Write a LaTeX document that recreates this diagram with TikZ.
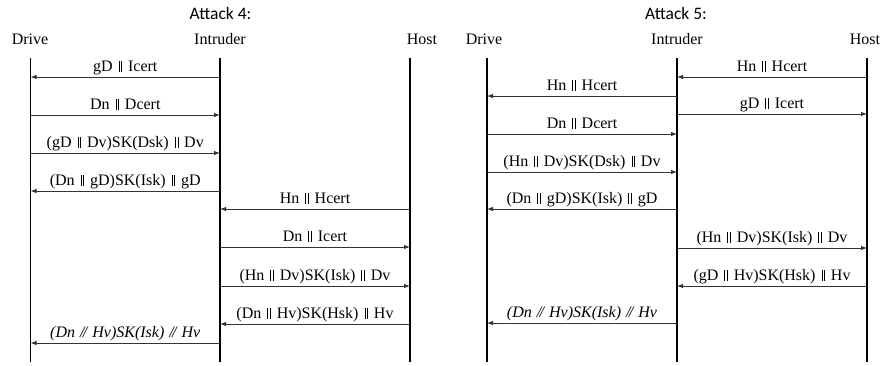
\documentclass[tikz,border=0pt]{standalone}
\usepackage{fontspec}
\setmainfont{Liberation Serif}
\newfontfamily\titlefont{Carlito}
\usetikzlibrary{arrows.meta}
\newcommand\dbar{\kern2pt\rule{0.7pt}{0.66em}\kern2pt\rule{0.7pt}{0.66em}\kern2pt}
\newcommand\ibar{\kern1pt\textit{/\kern-1.6pt/}\kern1pt}
\begin{document}
\begin{tikzpicture}[x=1pt,y=-1pt,
  font=\fontsize{16}{19}\selectfont,
  life/.style={line width=1.2pt},
  msg/.style={line width=0.9pt, draw=black!80, -{Latex[length=6pt,width=4.5pt]}},
  lbl/.style={above, inner sep=1.5pt, text depth=3.5pt, text height=11pt},
  hdr/.style={anchor=base, inner sep=0pt},
  ttl/.style={anchor=base, inner sep=0pt, font=\titlefont\fontsize{17.5}{20}\selectfont}]
\useasboundingbox (0,0) rectangle (884,365);

% titles
\node[ttl] (t4) at (220.5,19) {Attack 4:};
\node[ttl] (t5) at (676,19) {Attack 5:};

% headers
\node[hdr] (hLD) at (30,44) {Drive};
\node[hdr] (hLI) at (220,44) {Intruder};
\node[hdr] (hLH) at (422,44) {Host};
\node[hdr] (hRD) at (484,44) {Drive};
\node[hdr] (hRI) at (677,44) {Intruder};
\node[hdr] (hRH) at (865,44) {Host};

% lifelines
\coordinate (LD) at (30.5,58);  \coordinate (LDb) at (30.5,362);
\coordinate (LI) at (220,58);   \coordinate (LIb) at (220,362);
\coordinate (LH) at (410,58);   \coordinate (LHb) at (410,362);
\coordinate (RD) at (487,58);   \coordinate (RDb) at (487,362);
\coordinate (RI) at (677,58);   \coordinate (RIb) at (677,362);
\coordinate (RH) at (867,58);   \coordinate (RHb) at (867,362);
\foreach \a in {LD,LI,LH,RD,RI,RH}{\draw[life] (\a) -- (\a b);}

% Attack 4 messages
\draw[msg] (LI |- 0,77)  -- node[lbl]{gD \dbar{} Icert} (LD |- 0,77);
\draw[msg] (LD |- 0,115) -- node[lbl]{Dn \dbar{} Dcert} (LI |- 0,115);
\draw[msg] (LD |- 0,153) -- node[lbl]{(gD \dbar{} Dv)SK(Dsk) \dbar{} Dv} (LI |- 0,153);
\draw[msg] (LI |- 0,191) -- node[lbl]{(Dn \dbar{} gD)SK(Isk) \dbar{} gD} (LD |- 0,191);
\draw[msg] (LH |- 0,209) -- node[lbl]{Hn \dbar{} Hcert} (LI |- 0,209);
\draw[msg] (LI |- 0,247) -- node[lbl]{Dn \dbar{} Icert} (LH |- 0,247);
\draw[msg] (LI |- 0,286) -- node[lbl]{(Hn \dbar{} Dv)SK(Isk) \dbar{} Dv} (LH |- 0,286);
\draw[msg] (LH |- 0,324) -- node[lbl]{(Dn \dbar{} Hv)SK(Hsk) \dbar{} Hv} (LI |- 0,324);
\draw[msg] (LI |- 0,343) -- node[lbl]{\itshape (Dn \ibar{} Hv)SK(Isk) \ibar{} Hv} (LD |- 0,343);

% Attack 5 messages
\draw[msg] (RH |- 0,77)  -- node[lbl]{Hn \dbar{} Hcert} (RI |- 0,77);
\draw[msg] (RI |- 0,96)  -- node[lbl]{Hn \dbar{} Hcert} (RD |- 0,96);
\draw[msg] (RI |- 0,114) -- node[lbl]{gD \dbar{} Icert} (RH |- 0,114);
\draw[msg] (RD |- 0,134) -- node[lbl]{Dn \dbar{} Dcert} (RI |- 0,134);
\draw[msg] (RD |- 0,172) -- node[lbl]{(Hn \dbar{} Dv)SK(Dsk) \dbar{} Dv} (RI |- 0,172);
\draw[msg] (RI |- 0,209) -- node[lbl]{(Dn \dbar{} gD)SK(Isk) \dbar{} gD} (RD |- 0,209);
\draw[msg] (RI |- 0,248) -- node[lbl]{(Hn \dbar{} Dv)SK(Isk) \dbar{} Dv} (RH |- 0,248);
\draw[msg] (RH |- 0,286) -- node[lbl]{(gD \dbar{} Hv)SK(Hsk) \dbar{} Hv} (RI |- 0,286);
\draw[msg] (RI |- 0,323) -- node[lbl]{\itshape (Dn \ibar{} Hv)SK(Isk) \ibar{} Hv} (RD |- 0,323);
\end{tikzpicture}
\end{document}
